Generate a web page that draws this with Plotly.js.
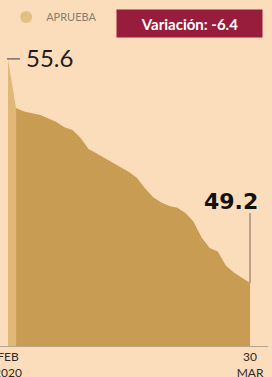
<!DOCTYPE html>
<html>
<head>
<meta charset="utf-8">
<script src="https://cdn.plot.ly/plotly-3.0.1.min.js"></script>
<style>
html,body{margin:0;padding:0;background:#FCDDBB;}
#chart{width:272px;height:377px;}
</style>
</head>
<body>
<div id="chart"></div>
<script>
// Data
const seriesName = 'APRUEBA';
const startDates = ['2020-02-29', '2020-03-01'];
const startValues = [55.6, 54.2];
const dates = ['2020-03-01','2020-03-02','2020-03-03','2020-03-04','2020-03-05','2020-03-06','2020-03-07','2020-03-08','2020-03-09','2020-03-10',
  '2020-03-11','2020-03-12','2020-03-13','2020-03-14','2020-03-15','2020-03-16','2020-03-17','2020-03-18','2020-03-19','2020-03-20',
  '2020-03-21','2020-03-22','2020-03-23','2020-03-24','2020-03-25','2020-03-26','2020-03-27','2020-03-28','2020-03-29','2020-03-30'];
const values = [54.2,54.1,54.05,54.0,53.9,53.8,53.65,53.57,53.34,53.03,
  52.9,52.77,52.63,52.49,52.37,52.2,51.9,51.65,51.5,51.4,
  51.35,51.2,50.95,50.5,50.2,50.1,49.7,49.5,49.35,49.2];
const tickVals = ['2020-02-29', '2020-03-30'];
const tickText = ['FEB<br>2020', '30<br>MAR'];
const variationLabel = 'Variación: -6.4';

const FONT = 'Lato, "Open Sans", sans-serif';
const lastDate = dates[dates.length - 1];
const lastVal = values[values.length - 1];

const traces = [
  {x: startDates, y: startValues, type: 'scatter', mode: 'lines', fill: 'tozeroy',
   fillcolor: '#E0B878', line: {width: 0, color: '#E0B878'}, showlegend: false, hoverinfo: 'skip'},
  {x: dates, y: values, type: 'scatter', mode: 'lines', fill: 'tozeroy',
   fillcolor: '#C99C54', line: {width: 0, color: '#C99C54'}, showlegend: false, hoverinfo: 'skip'},
  {x: [null], y: [null], type: 'scatter', mode: 'markers', name: seriesName,
   marker: {color: '#E2BF82', size: 12, symbol: 'circle'}, showlegend: true}
];

const layout = {
  width: 272, height: 377,
  margin: {l: 0, r: 4, t: 40, b: 31},
  paper_bgcolor: '#FCDDBB', plot_bgcolor: '#FCDDBB',
  font: {family: FONT, color: '#2b2b2b'},
  xaxis: {type: 'date', range: ['2020-02-28 00:14', '2020-04-01 05:30'],
    tickvals: tickVals, ticktext: tickText, ticks: '', showgrid: false, zeroline: false,
    showline: true, linecolor: '#b8a48c', linewidth: 1, ticklabeloverflow: 'allow',
    tickfont: {size: 12, color: '#2b2b2b', family: FONT}, fixedrange: true},
  yaxis: {range: [47.4, 56.14], showgrid: false, zeroline: false, showticklabels: false,
    showline: false, ticks: '', fixedrange: true},
  showlegend: true,
  legend: {orientation: 'h', x: 0.023, y: 1.075, xanchor: 'left', yanchor: 'middle',
    bgcolor: 'rgba(0,0,0,0)', font: {size: 11, color: '#8a7d70', family: FONT}},
  shapes: [
    {type: 'line', xref: 'x', yref: 'y', xsizemode: 'pixel', xanchor: startDates[0],
     x0: -1, x1: 12, y0: startValues[0], y1: startValues[0], line: {color: '#3a3a3a', width: 1}},
    {type: 'line', xref: 'x', yref: 'y', ysizemode: 'pixel', yanchor: lastVal,
     x0: lastDate, x1: lastDate, y0: 0, y1: 70, line: {color: '#7a6a5a', width: 1}}
  ],
  annotations: [
    {x: startDates[0], y: startValues[0], xref: 'x', yref: 'y', text: String(startValues[0]),
     showarrow: false, xanchor: 'left', yanchor: 'middle', xshift: 16, yshift: 1,
     font: {size: 24, color: '#1e1e1e', family: FONT}},
    {x: lastDate, y: lastVal, xref: 'x', yref: 'y', text: '<b>' + lastVal.toFixed(1) + '</b>',
     showarrow: false, xanchor: 'center', yanchor: 'bottom', xshift: -19, yshift: 67,
     font: {size: 22, color: '#111111', family: '"DejaVu Sans", sans-serif'}},
    {x: 189.5 / 268, y: (346 - 23.5) / 306, xref: 'paper', yref: 'paper', text: '<b>' + variationLabel + '</b>',
     showarrow: false, xanchor: 'center', yanchor: 'middle', bgcolor: '#981C3C', width: 143, height: 25,
     borderpad: 1, font: {size: 15, color: '#ffffff', family: FONT}}
  ]
};

Plotly.newPlot('chart', traces, layout, {staticPlot: true, displayModeBar: false});
</script>
</body>
</html>
